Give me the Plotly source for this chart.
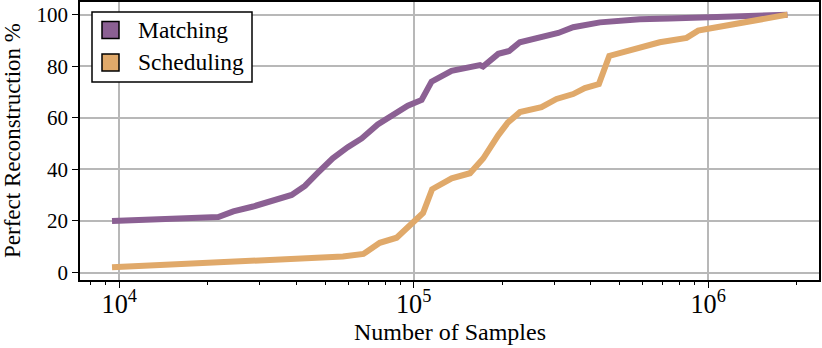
import plotly.graph_objects as go

# valores
samples_matching = [9450, 21700, 24400, 28500, 38500, 42700, 47200, 53100, 59700, 66600,
                    75500, 86300, 95500, 106400, 115000, 134500, 168000, 172000, 193800,
                    211000, 229400, 309800, 348000, 429000, 586000, 741000, 1000000, 1860000]
matching = [20, 21.5, 23.7, 25.6, 30.1, 33.6, 38.6, 44.3, 48.6, 52,
            57.4, 61.6, 64.7, 66.9, 74, 78.2, 80.4, 79.9, 84.8,
            85.9, 89.3, 92.9, 95.1, 97.0, 98.2, 98.5, 99.0, 100]

samples_scheduling = [9450, 21700, 57500, 67500, 76700, 87500, 101000, 107600, 115500, 134600,
                      155300, 172200, 193600, 209000, 229600, 271600, 305600, 348000, 381400,
                      425600, 461600, 556000, 685000, 845000, 925000, 1000000, 1860000]
scheduling = [2, 3.8, 6.2, 7.2, 11.5, 13.5, 20.5, 23.1, 32.3, 36.5,
              38.5, 44.2, 53.2, 58.2, 62.2, 64.1, 67.3, 69.2, 71.5,
              73.1, 84.0, 86.5, 89.3, 91.0, 93.8, 94.5, 100]

series_names = ['Matching', 'Scheduling']

PURPLE = '#8b6093'
ORANGE = '#e0a96a'
FONT = '"Liberation Serif", "DejaVu Serif", serif'

W, H = 822, 348
L, R, T, B = 80, 3, 2, 68
PW, PH = W - L - R, H - T - B


def px(x):
    # pixel horizontal -> fraccion del area de datos
    return (x - L) / PW


def py(y):
    # pixel vertical -> fraccion del area de datos
    return (H - B - y) / PH


fig = go.Figure()

fig.add_trace(go.Scatter(x=samples_matching, y=matching, mode='lines', name=series_names[0],
                         line=dict(color=PURPLE, width=6), showlegend=False))
fig.add_trace(go.Scatter(x=samples_scheduling, y=scheduling, mode='lines', name=series_names[1],
                         line=dict(color=ORANGE, width=6), showlegend=False))

# leyenda dibujada a mano (caja + cuadrados + texto)
shapes = [dict(type='rect', xref='paper', yref='paper',
               x0=px(92), x1=px(252), y0=py(82), y1=py(12),
               fillcolor='white', line=dict(color='black', width=1.5), layer='above')]
annotations = []
for i, (name, color) in enumerate(zip(series_names, [PURPLE, ORANGE])):
    cy = 30 + 32.5 * i
    shapes.append(dict(type='rect', xref='paper', yref='paper',
                       x0=px(102), x1=px(119), y0=py(cy + 8.5), y1=py(cy - 8.5),
                       fillcolor=color, line=dict(color='black', width=1.5), layer='above'))
    annotations.append(dict(text=name, xref='paper', yref='paper',
                            x=px(136), y=py(cy), xanchor='left', yanchor='middle',
                            showarrow=False, font=dict(family=FONT, size=23.5)))

annotations += [
    dict(text='Number of Samples', xref='paper', yref='paper',
         x=0.5, y=0, yshift=-52, xanchor='center', yanchor='middle',
         showarrow=False, font=dict(family=FONT, size=24)),
    dict(text='Perfect Reconstruction %', xref='paper', yref='paper',
         x=0, y=0.5, xshift=-68, xanchor='center', yanchor='middle',
         textangle=-90, showarrow=False, font=dict(family=FONT, size=23)),
]

fig.update_layout(
    width=W, height=H,
    margin=dict(l=L, r=R, t=T, b=B, autoexpand=False),
    plot_bgcolor='white', paper_bgcolor='white',
    font=dict(family=FONT, size=21, color='black'),
    showlegend=False,
    shapes=shapes,
    annotations=annotations,
)

fig.update_xaxes(
    type='log', range=[3.8667, 6.3766], automargin=False,
    dtick=1, exponentformat='power',
    ticks='outside', ticklen=6, tickwidth=1.2, tickcolor='black',
    tickfont=dict(family=FONT, size=21), ticklabelstandoff=-5,
    minor=dict(ticks='outside', ticklen=3.5, tickwidth=1, tickcolor='black',
               dtick='D1', showgrid=False),
    showgrid=True, gridcolor='#b8b8b8', gridwidth=1.5,
    showline=True, linecolor='black', linewidth=1.5, mirror=True,
    zeroline=False,
)
fig.update_yaxes(
    range=[-2.9, 104.9], automargin=False,
    tickvals=[0, 20, 40, 60, 80, 100],
    ticks='outside', ticklen=6, tickwidth=1.2, tickcolor='black',
    tickfont=dict(family=FONT, size=21),
    showgrid=True, gridcolor='#b8b8b8', gridwidth=1.5,
    showline=True, linecolor='black', linewidth=1.5, mirror=True,
    zeroline=False,
)

# sin margen del body para que la figura ocupe toda la ventana
fig.write_html("out.html", config={'displayModeBar': False},
               post_script="document.body.style.margin='0';")
